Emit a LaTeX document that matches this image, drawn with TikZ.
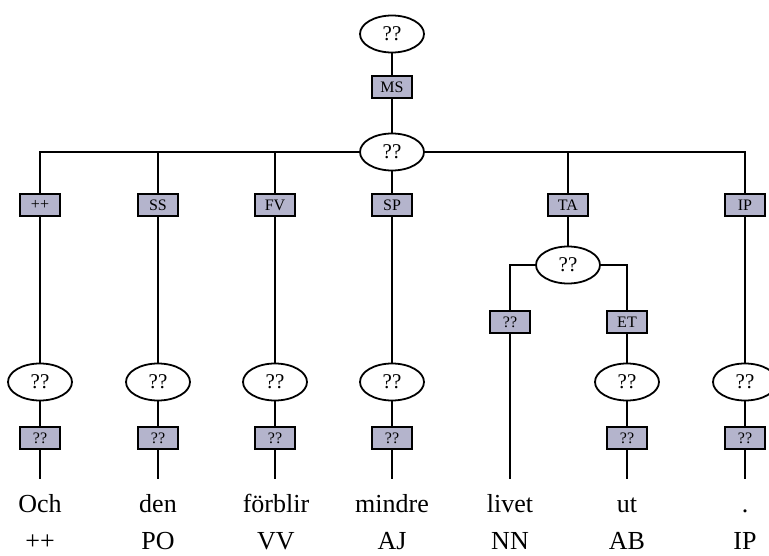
\documentclass[tikz,border=0pt]{standalone}
\usepackage{fontspec}
\setmainfont{Liberation Serif}
\usetikzlibrary{shapes.geometric}
\definecolor{boxfill}{RGB}{180,180,204}
\begin{document}
\begin{tikzpicture}[x=1pt,y=-1pt,line width=1.8pt,
  ell/.style={ellipse,draw,fill=white,minimum width=64pt,minimum height=37pt,inner sep=0pt,font=\fontsize{21}{21}\selectfont},
  lab/.style={rectangle,draw,fill=boxfill,minimum width=40pt,minimum height=22pt,inner sep=0pt,font=\fontsize{16}{16}\selectfont},
  word/.style={inner sep=0pt,anchor=base,text depth=0pt,font=\fontsize{26}{26}\selectfont}]
\useasboundingbox (0,0) rectangle (769,556);
% top
\node[ell] (top) at (392,34) {??};
\node[lab] (ms) at (392,87) {MS};
\node[ell] (mid) at (392,152) {??};
% first-level labels
\node[lab] (l1) at (40,205) {++};
\node[lab] (l2) at (158,205) {SS};
\node[lab] (l3) at (275,205) {FV};
\node[lab] (l4) at (392,205) {SP};
\node[lab] (l5) at (568,205) {TA};
\node[lab] (l6) at (745,205) {IP};
% TA subtree
\node[ell] (ta) at (568,265) {??};
\node[lab] (t1) at (510,322) {??};
\node[lab] (t2) at (627,322) {ET};
% lower ellipses
\node[ell] (e1) at (40,382) {??};
\node[ell] (e2) at (158,382) {??};
\node[ell] (e3) at (275,382) {??};
\node[ell] (e4) at (392,382) {??};
\node[ell] (e6) at (627,382) {??};
\node[ell] (e7) at (745,382) {??};
% lower labels
\node[lab] (b1) at (40,438) {??};
\node[lab] (b2) at (158,438) {??};
\node[lab] (b3) at (275,438) {??};
\node[lab] (b4) at (392,438) {??};
\node[lab] (b6) at (627,438) {??};
\node[lab] (b7) at (745,438) {??};
% line ends
\coordinate (w1) at (40,479);
\coordinate (w2) at (158,479);
\coordinate (w3) at (275,479);
\coordinate (w4) at (392,479);
\coordinate (w5) at (510,479);
\coordinate (w6) at (627,479);
\coordinate (w7) at (745,479);
% words
\node[word] (o1) at (40,512) {Och};
\node[word] (o2) at (158,512) {den};
\node[word] (o3) at (276,512) {förblir};
\node[word] (o4) at (392,512) {mindre};
\node[word] (o5) at (510,512) {livet};
\node[word] (o6) at (627,512) {ut};
\node[word] (o7) at (745,512) {.};
\node[word] (p1) at (40,549) {++};
\node[word] (p2) at (158,549) {PO};
\node[word] (p3) at (276,549) {VV};
\node[word] (p4) at (392,549) {AJ};
\node[word] (p5) at (510,549) {NN};
\node[word] (p6) at (627,549) {AB};
\node[word] (p7) at (745,549) {IP};
% connectors
\draw (top) -- (ms) -- (mid);
\draw (mid.west) -| (l1);
\draw (mid.west) -| (l2);
\draw (mid.west) -| (l3);
\draw (mid) -- (l4);
\draw (mid.east) -| (l5);
\draw (mid.east) -| (l6);
\draw (l5) -- (ta);
\draw (ta.west) -| (t1);
\draw (ta.east) -| (t2);
\draw (l1) -- (e1) -- (b1) -- (w1);
\draw (l2) -- (e2) -- (b2) -- (w2);
\draw (l3) -- (e3) -- (b3) -- (w3);
\draw (l4) -- (e4) -- (b4) -- (w4);
\draw (t1) -- (w5);
\draw (t2) -- (e6) -- (b6) -- (w6);
\draw (l6) -- (e7) -- (b7) -- (w7);
\end{tikzpicture}
\end{document}
